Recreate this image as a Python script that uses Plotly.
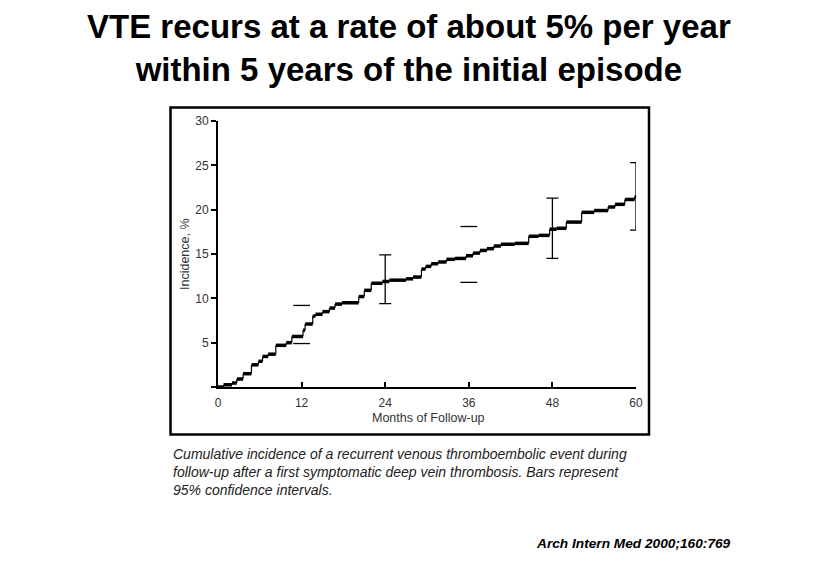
import plotly.graph_objects as go

# Step curve: start month of each step and cumulative incidence (%) on that step
step_t = [0.0, 0.8, 2.0, 2.7, 3.6, 4.8, 5.8, 6.4, 7.2, 8.3, 9.8, 10.6, 12.2, 12.5,
          13.6, 14.0, 15.0, 16.0, 16.8, 17.8, 20.2, 21.0, 22.0, 23.6, 24.6, 27.0,
          28.0, 29.2, 29.8, 30.6, 31.6, 32.8, 34.0, 35.6, 36.6, 37.6, 38.6, 39.6,
          40.6, 42.6, 44.6, 46.0, 47.6, 48.6, 50.0, 52.2, 54.0, 56.0, 57.0, 58.4, 59.8]
step_y = [0.0, 0.25, 0.45, 0.9, 1.5, 2.5, 2.9, 3.45, 3.7, 4.7, 5.0, 5.7, 6.4, 7.1,
          8.0, 8.2, 8.5, 8.9, 9.35, 9.5, 10.2, 10.9, 11.7, 11.9, 12.05, 12.2,
          12.4, 13.3, 13.6, 13.9, 14.1, 14.4, 14.5, 14.8, 15.1, 15.4, 15.6, 15.9,
          16.1, 16.2, 17.0, 17.1, 17.8, 17.9, 18.6, 19.7, 19.9, 20.3, 20.6, 21.15, 21.45]
end_month = 60.0

# 95% confidence intervals
ci_t = [12, 24, 36, 48, 60]
ci_mid = [6.4, 11.9, 14.8, 17.8, 21.45]
ci_lo = [4.9, 9.4, 11.8, 14.5, 17.7]
ci_hi = [9.2, 14.9, 18.1, 21.3, 25.3]
ci_has_stem = [False, True, False, True, True]

x_ticks = [0, 12, 24, 36, 48, 60]
y_ticks = [0, 5, 10, 15, 20, 25, 30]
y_ticktext = ["", "5", "10", "15", "20", "25", "30"]

# Build horizontal and vertical pieces of the step function
hx, hy, vx, vy = [], [], [], []
for i, (t, y) in enumerate(zip(step_t, step_y)):
    t_end = step_t[i + 1] if i + 1 < len(step_t) else end_month
    hx += [t, t_end, None]
    hy += [y, y, None]
    if i > 0:
        vx += [t, t, None]
        vy += [step_y[i - 1], y, None]

fig = go.Figure()
fig.add_trace(go.Scatter(x=vx, y=vy, mode="lines", line=dict(color="black", width=1.2),
                         hoverinfo="skip", showlegend=False, cliponaxis=False))
fig.add_trace(go.Scatter(x=hx, y=hy, mode="lines", line=dict(color="black", width=3.5),
                         showlegend=False, cliponaxis=False))

# CIs with stems
st = [t for t, s in zip(ci_t, ci_has_stem) if s]
sm = [m for m, s in zip(ci_mid, ci_has_stem) if s]
sp = [h - m for h, m, s in zip(ci_hi, ci_mid, ci_has_stem) if s]
sn = [m - l for l, m, s in zip(ci_lo, ci_mid, ci_has_stem) if s]
fig.add_trace(go.Scatter(x=st, y=sm, mode="markers", marker=dict(size=1, color="black"),
                         error_y=dict(type="data", symmetric=False, array=sp, arrayminus=sn,
                                      color="black", thickness=1.3, width=6),
                         showlegend=False, cliponaxis=False))
# CIs whose stems are not visible: caps only
ct = [t for t, s in zip(ci_t, ci_has_stem) if not s]
cl = [l for l, s in zip(ci_lo, ci_has_stem) if not s]
ch = [h for h, s in zip(ci_hi, ci_has_stem) if not s]
fig.add_trace(go.Scatter(x=ct + ct, y=cl + ch, mode="markers",
                         marker=dict(symbol="line-ew", size=12, color="black",
                                     line=dict(color="black", width=1.3)),
                         showlegend=False, cliponaxis=False))

OFF = 8  # page body margin
W, H = 817, 563
X0, X1, Y0, Y1 = 218 - OFF, 636 - OFF, 387 - OFF, 121 - OFF
L, R, T, B = X0, W - X1, Y1, H - Y0
pw, ph = X1 - X0, Y0 - Y1

def px(xp):
    return (xp - OFF - X0) / pw

def py(yp):
    return (Y0 - (yp - OFF)) / ph

fig.update_layout(
    width=W, height=H,
    margin=dict(l=L, r=R, t=T, b=B, pad=0),
    paper_bgcolor="white", plot_bgcolor="white",
    font=dict(family="Liberation Sans, Arial, sans-serif", color="#222"),
    xaxis=dict(range=[0, 60], tickvals=x_ticks, showgrid=False, zeroline=False,
               showline=True, linecolor="black", linewidth=1.6,
               ticks="inside", ticklen=5, tickcolor="black", tickwidth=1.5,
               ticklabelstandoff=4,
               tickfont=dict(size=12, color="#333")),
    yaxis=dict(range=[0, 30], tickvals=y_ticks, ticktext=y_ticktext, showgrid=False,
               zeroline=False, showline=True, linecolor="black", linewidth=1.8,
               ticks="outside", ticklen=5, tickcolor="black", tickwidth=1.5,
               tickfont=dict(size=12, color="#333")),
    shapes=[dict(type="rect", xref="paper", yref="paper",
                 x0=px(170.5), x1=px(649), y0=py(434.5), y1=py(107.5),
                 line=dict(color="black", width=2.5))],
    annotations=[
        dict(text="<b>VTE recurs at a rate of about 5% per year<br>within 5 years of the initial episode</b>",
             xref="paper", yref="paper", x=px(409), y=py(48), xanchor="center", yanchor="middle",
             showarrow=False, font=dict(size=33, color="black", family="Liberation Sans, Arial"),
             align="center"),
        dict(text="Months of Follow-up", xref="paper", yref="paper", x=px(428), y=py(418),
             xanchor="center", yanchor="middle", showarrow=False,
             font=dict(size=12.5, color="#333")),
        dict(text="Incidence, %", xref="paper", yref="paper", x=px(185), y=py(254),
             xanchor="center", yanchor="middle", textangle=-90, showarrow=False,
             font=dict(size=12.5, color="#333")),
        dict(text="<i>Cumulative incidence of a recurrent venous thromboembolic event during<br>"
                  "follow-up after a first symptomatic deep vein thrombosis. Bars represent<br>"
                  "95% confidence intervals.</i>",
             xref="paper", yref="paper", x=px(171), y=py(444), xanchor="left", yanchor="top",
             align="left", showarrow=False, font=dict(size=14, color="#222")),
        dict(text="<b><i>Arch Intern Med 2000;160:769</i></b>", xref="paper", yref="paper",
             x=px(534), y=py(543), xanchor="left", yanchor="middle", showarrow=False,
             font=dict(size=13.7, color="black")),
    ],
)

fig.write_html("out.html")
